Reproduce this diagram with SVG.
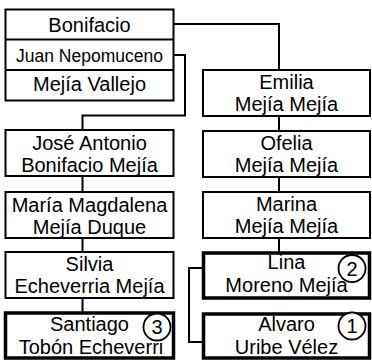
<svg xmlns="http://www.w3.org/2000/svg" width="372" height="360" viewBox="0 0 372 360">
<style>
  .box{fill:#fff;stroke:#000;stroke-width:2}
  .thick{fill:#fff;stroke:#000;stroke-width:3.5}
  .t{font-family:"Liberation Sans",Arial,sans-serif;font-size:20px;fill:#000;text-anchor:middle}
  .s{font-size:17.5px}
  .c{fill:#fff;stroke:#000;stroke-width:1.8}
  .conn{fill:none;stroke:#000;stroke-width:2}
</style>
<rect width="372" height="360" fill="#fff"/>
<g id="connectors">
  <polyline class="conn" points="173.5,24 279,24 279,70"/>
  <polyline class="conn" points="173.5,55 185,55 185,115.5 82.5,115.5 82.5,130"/>
  <line class="conn" x1="82.5" y1="176" x2="82.5" y2="192"/>
  <line class="conn" x1="82.5" y1="238" x2="82.5" y2="252"/>
  <line class="conn" x1="82.5" y1="298" x2="82.5" y2="313"/>
  <line class="conn" x1="279" y1="116" x2="279" y2="131"/>
  <line class="conn" x1="279" y1="177" x2="279" y2="192"/>
  <line class="conn" x1="279" y1="238" x2="279" y2="252"/>
  <polyline class="conn" points="203,268 189,268 189,342 203,342"/>
</g>
<g id="bonifacio">
  <rect class="box" x="5.5" y="9.5" width="168" height="91"/>
  <line class="conn" x1="5.5" y1="39.5" x2="173.5" y2="39.5"/>
  <line class="conn" x1="5.5" y1="70" x2="173.5" y2="70"/>
  <text class="t" x="89.5" y="32">Bonifacio</text>
  <text class="t s" x="89.5" y="61.5">Juan Nepomuceno</text>
  <text class="t" x="89.5" y="91">Mejía Vallejo</text>
</g>
<g id="jose">
  <rect class="box" x="5.5" y="130" width="168" height="46"/>
  <text class="t" x="89.5" y="149.5">José Antonio</text>
  <text class="t" x="89.5" y="172">Bonifacio Mejía</text>
</g>
<g id="maria">
  <rect class="box" x="5.5" y="192" width="168" height="46"/>
  <text class="t" x="89.5" y="211.5">María Magdalena</text>
  <text class="t" x="89.5" y="234">Mejía Duque</text>
</g>
<g id="silvia">
  <rect class="box" x="5.5" y="252" width="168" height="46"/>
  <text class="t" x="89.5" y="270.5">Silvia</text>
  <text class="t" x="89.5" y="293">Echeverria Mejía</text>
</g>
<g id="santiago">
  <rect class="thick" x="5.5" y="313" width="168" height="45"/>
  <text class="t" x="89.5" y="330.5">Santiago</text>
  <text class="t" x="91" y="354">Tobón Echeverri</text>
  <circle class="c" cx="157" cy="327" r="13.5"/>
  <text class="t" x="157" y="334">3</text>
</g>
<g id="emilia">
  <rect class="box" x="203" y="70" width="167" height="46"/>
  <text class="t" x="286.5" y="88.5">Emilia</text>
  <text class="t" x="286.5" y="110.5">Mejía Mejía</text>
</g>
<g id="ofelia">
  <rect class="box" x="203" y="131" width="167" height="46"/>
  <text class="t" x="286.5" y="150">Ofelia</text>
  <text class="t" x="286.5" y="172">Mejía Mejía</text>
</g>
<g id="marina">
  <rect class="box" x="203" y="192" width="167" height="46"/>
  <text class="t" x="286.5" y="211">Marina</text>
  <text class="t" x="286.5" y="233">Mejía Mejía</text>
</g>
<g id="lina">
  <rect class="thick" x="203.5" y="253" width="166" height="45"/>
  <text class="t" x="286.5" y="269">Lina</text>
  <text class="t" x="286.5" y="292">Moreno Mejía</text>
  <circle class="c" cx="352" cy="268.5" r="13.5"/>
  <text class="t" x="352" y="275.5">2</text>
</g>
<g id="alvaro">
  <rect class="thick" x="203.5" y="314" width="166" height="44"/>
  <text class="t" x="286.5" y="330.5">Alvaro</text>
  <text class="t" x="286.5" y="353.5">Uribe Vélez</text>
  <circle class="c" cx="352" cy="326" r="13.5"/>
  <text class="t" x="352" y="333">1</text>
</g>
</svg>
